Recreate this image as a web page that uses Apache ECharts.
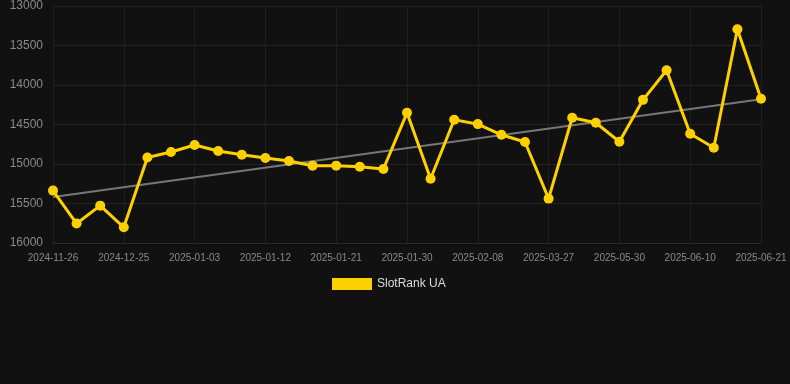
<!DOCTYPE html>
<html>
<head>
<meta charset="utf-8">
<script src="https://cdn.jsdelivr.net/npm/echarts@6/dist/echarts.min.js"></script>
<style>
html,body{margin:0;padding:0;background:#111111;}
#chart{width:790px;height:384px;}
</style>
</head>
<body>
<div id="chart"></div>
<script>
const categories = [
  '2024-11-26','2024-12-05','2024-12-15','2024-12-25','2024-12-28','2024-12-31',
  '2025-01-03','2025-01-06','2025-01-09','2025-01-12','2025-01-15','2025-01-18',
  '2025-01-21','2025-01-24','2025-01-27','2025-01-30','2025-02-02','2025-02-05',
  '2025-02-08','2025-02-24','2025-03-12','2025-03-27','2025-04-17','2025-05-09',
  '2025-05-30','2025-06-03','2025-06-07','2025-06-10','2025-06-14','2025-06-18',
  '2025-06-21'
];
const rankValues = [
  15337, 15754, 15527, 15801, 14917, 14848,
  14760, 14836, 14883, 14924, 14962, 15021,
  15021, 15034, 15063, 14352, 15186, 14440,
  14495, 14630, 14722, 15438, 14415, 14478,
  14718, 14188, 13813, 14617, 14794, 13295,
  14175
];
const trendStart = 15417;
const trendEnd = 14180;
const seriesName = 'SlotRank UA';

const trendValues = categories.map((c, i) => i === 0 ? trendStart : (i === categories.length - 1 ? trendEnd : null));

const chart = echarts.init(document.getElementById('chart'));
chart.setOption({
  backgroundColor: '#111111',
  animation: false,
  grid: { left: 53, right: 29, top: 6, bottom: 141 },
  legend: {
    data: [seriesName],
    top: 273,
    left: 327,
    itemWidth: 40,
    itemHeight: 12,
    icon: 'rect',
    textStyle: { color: '#dddddd', fontSize: 12, fontFamily: 'Liberation Sans, Arial, sans-serif' }
  },
  xAxis: {
    type: 'category',
    data: categories,
    boundaryGap: false,
    axisLine: { show: true, lineStyle: { color: '#2a2a2a' } },
    axisTick: { show: false },
    axisLabel: { interval: 2, color: '#8a8a8a', fontSize: 10, margin: 10, fontFamily: 'Liberation Sans, Arial, sans-serif' },
    splitLine: { show: true, interval: 2, lineStyle: { color: '#1f1f1f', width: 1 } }
  },
  yAxis: {
    type: 'value',
    inverse: true,
    min: 13000,
    max: 16000,
    interval: 500,
    axisLine: { show: false },
    axisTick: { show: false },
    axisLabel: { color: '#8a8a8a', fontSize: 12, margin: 10, fontFamily: 'Liberation Sans, Arial, sans-serif', formatter: v => String(v) },
    splitLine: { show: true, lineStyle: { color: '#222222', width: 1 } }
  },
  series: [
    {
      name: 'trend',
      type: 'line',
      data: trendValues,
      connectNulls: true,
      symbol: 'none',
      lineStyle: { color: '#777777', width: 2 },
      z: 1,
      silent: true
    },
    {
      name: seriesName,
      type: 'line',
      data: rankValues,
      symbol: 'circle',
      symbolSize: 10,
      itemStyle: { color: '#FFD000' },
      lineStyle: { color: '#FFD000', width: 3 },
      z: 2
    }
  ]
});
</script>
</body>
</html>
